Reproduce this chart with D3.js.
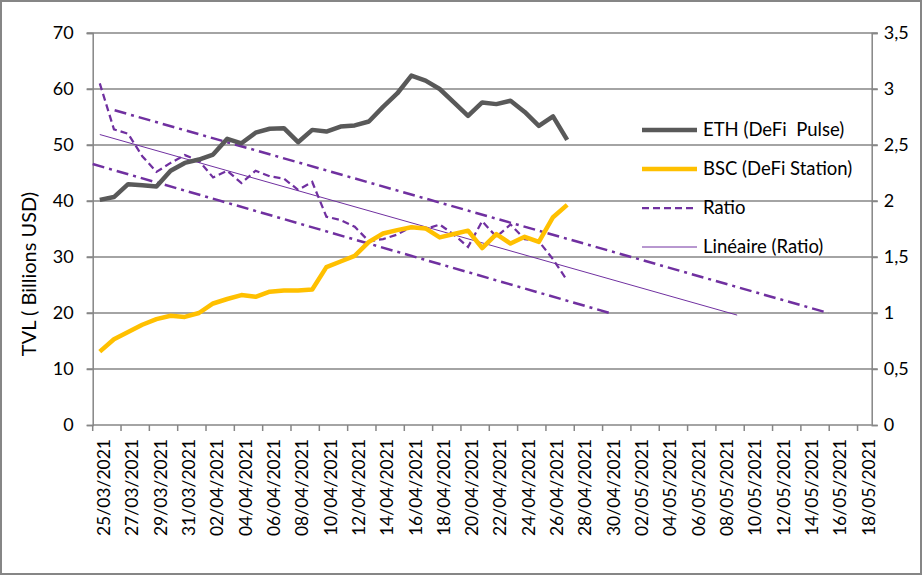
<!DOCTYPE html>
<html>
<head>
<meta charset="utf-8">
<script src="https://cdn.jsdelivr.net/npm/d3@7"></script>
<style>
    body { margin: 0; background: #fff; }
    svg { display: block; font-family: Lato, "Liberation Sans", sans-serif; }
</style>
</head>
<body>
<svg id="chart"></svg>
<script>
const width = 922, height = 575;

// Categories (one per day)
const dates = [
    "25/03/2021", "26/03/2021", "27/03/2021", "28/03/2021", "29/03/2021", "30/03/2021", "31/03/2021",
    "01/04/2021", "02/04/2021", "03/04/2021", "04/04/2021", "05/04/2021", "06/04/2021", "07/04/2021",
    "08/04/2021", "09/04/2021", "10/04/2021", "11/04/2021", "12/04/2021", "13/04/2021", "14/04/2021",
    "15/04/2021", "16/04/2021", "17/04/2021", "18/04/2021", "19/04/2021", "20/04/2021", "21/04/2021",
    "22/04/2021", "23/04/2021", "24/04/2021", "25/04/2021", "26/04/2021", "27/04/2021", "28/04/2021",
    "29/04/2021", "30/04/2021", "01/05/2021", "02/05/2021", "03/05/2021", "04/05/2021", "05/05/2021",
    "06/05/2021", "07/05/2021", "08/05/2021", "09/05/2021", "10/05/2021", "11/05/2021", "12/05/2021",
    "13/05/2021", "14/05/2021", "15/05/2021", "16/05/2021", "17/05/2021", "18/05/2021"
];

// Series values (25/03 -> 27/04)
const eth = [40.2, 40.7, 43.0, 42.8, 42.6, 45.4, 46.8, 47.4, 48.3, 51.1, 50.3, 52.2, 52.9, 53.0, 50.5, 52.7, 52.4,
             53.3, 53.5, 54.2, 56.8, 59.2, 62.4, 61.5, 60.0, 57.6, 55.2, 57.6, 57.3, 57.9, 55.9, 53.4, 55.1, 50.9];
const bsc = [13.1, 15.3, 16.6, 17.9, 18.9, 19.5, 19.3, 20.0, 21.7, 22.5, 23.2, 22.9, 23.8, 24.0, 24.0, 24.2, 28.2,
             29.2, 30.2, 32.7, 34.2, 34.8, 35.3, 35.1, 33.5, 34.1, 34.7, 31.6, 34.1, 32.4, 33.6, 32.7, 37.1, 39.3];
const ratio = [3.05, 2.64, 2.60, 2.40, 2.26, 2.34, 2.41, 2.36, 2.21, 2.27, 2.16, 2.27, 2.22, 2.20, 2.10, 2.17, 1.86,
               1.83, 1.77, 1.64, 1.66, 1.70, 1.77, 1.75, 1.79, 1.70, 1.59, 1.82, 1.68, 1.79, 1.66, 1.64, 1.48, 1.29];

// Trend line forecast (periods forward)
const trendForward = 12;

// Hand drawn channel lines: [start index, start value, end index, end value] on the ratio axis
const channelLines = [
    [1.05, 2.81, 51.45, 1.0],
    [-0.5, 2.33, 36.0, 1.0]
];

// Tick labels
const leftTicks = [0, 10, 20, 30, 40, 50, 60, 70];
const rightTicks = [0, 0.5, 1, 1.5, 2, 2.5, 3, 3.5];

const legendItems = [
    { name: "ETH (DeFi  Pulse)", color: "#595959", width: 4.5, dash: null },
    { name: "BSC (DeFi Station)", color: "#FFC000", width: 4.5, dash: null },
    { name: "Ratio", color: "#7030A0", width: 2.25, dash: "7,4" },
    { name: "Linéaire (Ratio)", color: "#7030A0", width: 1, dash: null }
];

const margin = { left: 92.7, right: 922 - 871.7, top: 33, bottom: 575 - 425 };
const gridColor = "#868686";

const svg = d3.select("#chart")
    .attr("width", width)
    .attr("height", height);

// chart border
svg.append("rect")
    .attr("x", 1).attr("y", 1)
    .attr("width", width - 2).attr("height", height - 2)
    .attr("fill", "#fff")
    .attr("stroke", gridColor)
    .attr("stroke-width", 2);

const x = d3.scaleBand()
    .domain(dates)
    .range([margin.left, width - margin.right])
    .padding(0);

const bw = x.bandwidth();
const xIdx = i => margin.left + (i + 0.5) * bw; // center of category i (fractional allowed)

const yL = d3.scaleLinear().domain([0, 70]).range([height - margin.bottom, margin.top]);
const yR = d3.scaleLinear().domain([0, 3.5]).range([height - margin.bottom, margin.top]);

// Gridlines
svg.append("g")
    .selectAll("line")
    .data(leftTicks.filter(d => d > 0))
    .join("line")
    .attr("x1", margin.left - 6)
    .attr("x2", width - margin.right + 6)
    .attr("y1", d => yL(d))
    .attr("y2", d => yL(d))
    .attr("stroke", gridColor)
    .attr("stroke-width", 1.5);

// Left axis
const leftAxis = svg.append("g")
    .attr("transform", `translate(${margin.left},0)`)
    .call(d3.axisLeft(yL).tickValues(leftTicks).tickSize(6).tickPadding(13));
leftAxis.select(".domain").attr("stroke", gridColor).attr("stroke-width", 1.5);
leftAxis.selectAll(".tick line").attr("stroke", gridColor).attr("stroke-width", 1.5);
leftAxis.selectAll("text")
    .attr("font-family", "Lato").attr("font-size", 18).attr("fill", "#000");

// Right axis
const rightAxis = svg.append("g")
    .attr("transform", `translate(${width - margin.right},0)`)
    .call(d3.axisRight(yR).tickValues(rightTicks).tickSize(6).tickPadding(6)
        .tickFormat(d => String(d).replace(".", ",")));
rightAxis.select(".domain").attr("stroke", gridColor).attr("stroke-width", 1.5);
rightAxis.selectAll(".tick line").attr("stroke", gridColor).attr("stroke-width", 1.5);
rightAxis.selectAll("text")
    .attr("font-family", "Lato").attr("font-size", 18).attr("fill", "#000");

// Bottom axis
const xAxisG = svg.append("g")
    .attr("transform", `translate(0,${height - margin.bottom})`);
xAxisG.append("line")
    .attr("x1", margin.left).attr("x2", width - margin.right)
    .attr("stroke", gridColor).attr("stroke-width", 1.5);
xAxisG.selectAll(".xtick")
    .data(dates.filter((d, i) => i % 2 === 0))
    .join("line")
    .attr("class", "xtick")
    .attr("x1", d => x(d)).attr("x2", d => x(d))
    .attr("y1", 0).attr("y2", 6)
    .attr("stroke", gridColor).attr("stroke-width", 1.5);
xAxisG.selectAll(".xlabel")
    .data(dates.filter((d, i) => i % 2 === 0))
    .join("text")
    .attr("class", "xlabel")
    .attr("transform", d => `translate(${x(d) + bw / 2 + 4},14) rotate(-90)`)
    .attr("text-anchor", "end")
    .attr("dy", "0.35em")
    .attr("font-size", 17.5)
    .attr("fill", "#000")
    .text(d => d);

// Y axis title
svg.append("text")
    .attr("transform", "translate(29,274) rotate(-90)")
    .attr("text-anchor", "middle")
    .attr("dy", "0.35em")
    .attr("font-size", 20)
    .attr("fill", "#000")
    .text("TVL ( Billions USD)");

const plot = svg.append("g");

// Channel lines (dash dot)
plot.selectAll(".channel")
    .data(channelLines)
    .join("line")
    .attr("class", "channel")
    .attr("x1", d => xIdx(d[0])).attr("y1", d => yR(d[1]))
    .attr("x2", d => xIdx(d[2])).attr("y2", d => yR(d[3]))
    .attr("stroke", "#7030A0")
    .attr("stroke-width", 2.5)
    .attr("stroke-dasharray", "12,5,3,5");

// Linear trend of the ratio (least squares), extended forward
const n = ratio.length;
const mx = d3.mean(ratio, (d, i) => i);
const my = d3.mean(ratio);
const slope = d3.sum(ratio, (d, i) => (i - mx) * (d - my)) / d3.sum(ratio, (d, i) => (i - mx) * (i - mx));
const intercept = my - slope * mx;
plot.append("line")
    .attr("x1", xIdx(0)).attr("y1", yR(intercept))
    .attr("x2", xIdx(n - 1 + trendForward)).attr("y2", yR(intercept + slope * (n - 1 + trendForward)))
    .attr("stroke", "#7030A0")
    .attr("stroke-width", 1);

const lineL = d3.line().x((d, i) => xIdx(i)).y(d => yL(d));
const lineR = d3.line().x((d, i) => xIdx(i)).y(d => yR(d));

plot.append("path")
    .datum(ratio)
    .attr("d", lineR)
    .attr("fill", "none")
    .attr("stroke", "#7030A0")
    .attr("stroke-width", 2.25)
    .attr("stroke-dasharray", "7,4");

plot.append("path")
    .datum(eth)
    .attr("d", lineL)
    .attr("fill", "none")
    .attr("stroke", "#595959")
    .attr("stroke-width", 4.5)
    .attr("stroke-linejoin", "round");

plot.append("path")
    .datum(bsc)
    .attr("d", lineL)
    .attr("fill", "none")
    .attr("stroke", "#FFC000")
    .attr("stroke-width", 4.5)
    .attr("stroke-linejoin", "round");

// Legend
const legend = svg.append("g");
const legendRows = legend.selectAll("g")
    .data(legendItems)
    .join("g")
    .attr("transform", (d, i) => `translate(642,${130 + i * 39})`);
legendRows.append("line")
    .attr("x1", 0).attr("x2", 55)
    .attr("stroke", d => d.color)
    .attr("stroke-width", d => d.width)
    .attr("stroke-dasharray", d => d.dash);
legendRows.append("text")
    .attr("x", 61)
    .attr("dy", "0.35em")
    .attr("font-size", 18.5)
    .attr("fill", "#000")
    .style("white-space", "pre")
    .text(d => d.name);
</script>
</body>
</html>
